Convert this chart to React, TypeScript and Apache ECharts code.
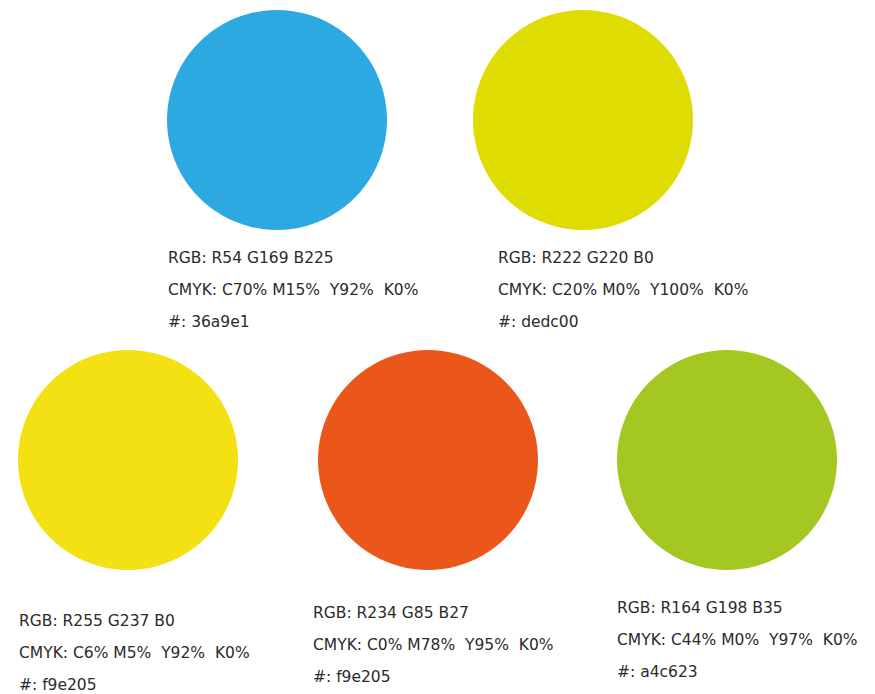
import React, { useEffect, useRef } from "react";
import * as echarts from "echarts";

const swatchNames = ["blue", "lime", "yellow", "orange", "green"];
const swatchColors = ["#2ca9e1", "#dedc00", "#f4e114", "#eb561b", "#a5c722"];
const rgbLabels = [
  "RGB: R54 G169 B225",
  "RGB: R222 G220 B0",
  "RGB: R255 G237 B0",
  "RGB: R234 G85 B27",
  "RGB: R164 G198 B35",
];
const cmykLabels = [
  "CMYK: C70% M15%  Y92%  K0%",
  "CMYK: C20% M0%  Y100%  K0%",
  "CMYK: C6% M5%  Y92%  K0%",
  "CMYK: C0% M78%  Y95%  K0%",
  "CMYK: C44% M0%  Y97%  K0%",
];
const hexLabels = ["#: 36a9e1", "#: dedc00", "#: f9e205", "#: f9e205", "#: a4c623"];

// layout (pixel positions of swatch centres and their text blocks)
const layoutCenters = [
  [277, 120],
  [583, 120],
  [128, 460],
  [428, 460],
  [727, 460],
];
const layoutText = [
  [168, 258],
  [498, 258],
  [19, 621],
  [313, 613],
  [617, 608],
];

export default function App() {
  const ref = useRef<HTMLDivElement>(null);
  useEffect(() => {
    document.body.style.margin = "0";
    const chart = echarts.init(ref.current!, null, { renderer: "svg" });
    const W = 875;
    const H = 694;
    const font = "'DejaVu Sans', sans-serif";
    const graphics: any[] = [];
    swatchNames.forEach((_, i) => {
      const [tx, ty] = layoutText[i];
      [rgbLabels[i], cmykLabels[i], hexLabels[i]].forEach((t, j) => {
        graphics.push({
          type: "text",
          x: tx,
          y: ty + j * 32,
          style: {
            text: t,
            fill: "#2b2b2b",
            font: `15.5px ${font}`,
            textVerticalAlign: "middle",
          },
        });
      });
    });
    chart.setOption({
      animation: false,
      backgroundColor: "#ffffff",
      grid: { left: 0, right: 0, top: 0, bottom: 0 },
      xAxis: { type: "value", min: 0, max: W, show: false },
      yAxis: { type: "value", min: 0, max: H, inverse: true, show: false },
      series: [
        {
          type: "scatter",
          symbol: "circle",
          symbolSize: 220,
          data: swatchNames.map((n, i) => ({
            name: n,
            value: layoutCenters[i],
            itemStyle: { color: swatchColors[i], opacity: 1 },
          })),
          silent: true,
        },
      ],
      graphic: graphics,
    });
    return () => chart.dispose();
  }, []);
  return <div ref={ref} style={{ width: 875, height: 694 }} />;
}
